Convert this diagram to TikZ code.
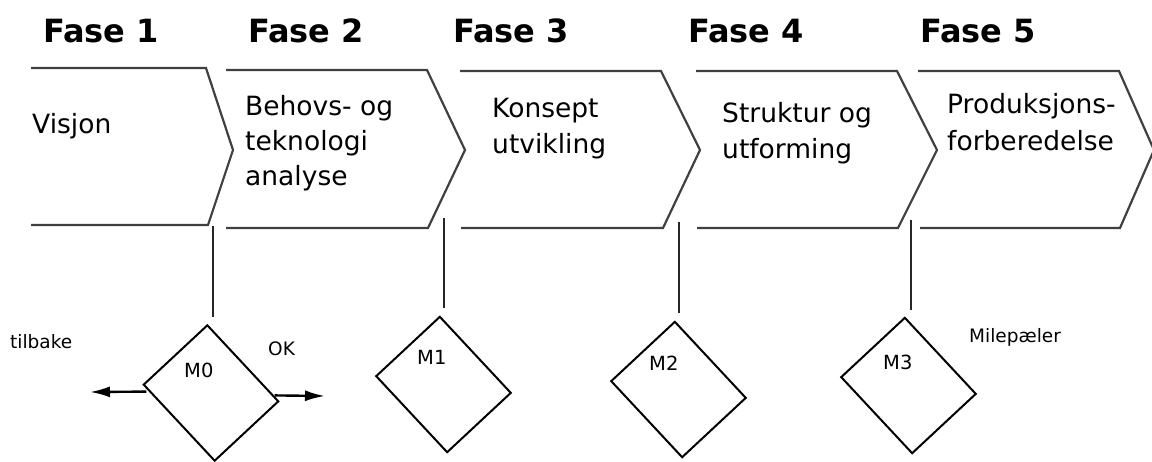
\documentclass[tikz,border=0pt]{standalone}
\usepackage{fontspec}
\setmainfont{DejaVu Sans}
\usetikzlibrary{arrows.meta}
\begin{document}
\begin{tikzpicture}[x=1pt,y=-1pt,
  chev/.style={line width=2.2pt, draw=black!75, line join=miter},
  phase/.style={font=\fontsize{32}{38}\selectfont\bfseries, anchor=base west, inner sep=0},
  ctext/.style={font=\fontsize{26.5}{32}\selectfont, anchor=base west, inner sep=0},
  small/.style={font=\fontsize{18.5}{22}\selectfont, anchor=base west, inner sep=0},
  mtext/.style={font=\fontsize{19.5}{22}\selectfont, anchor=base west, inner sep=0},
  ms/.style={draw, line width=2pt, rectangle, minimum width=104pt, minimum height=87pt, rotate=-47, inner sep=0},
  stem/.style={line width=1.4pt, draw=black!85},
  arr/.style={line width=2.4pt, -{Latex[length=20pt,width=11pt]}},
]
\useasboundingbox (0,0) rectangle (1152,461);

% phase titles
\node[phase] (f1) at (43,42) {Fase 1};
\node[phase] (f2) at (248,42) {Fase 2};
\node[phase] (f3) at (453,42) {Fase 3};
\node[phase] (f4) at (688,42) {Fase 4};
\node[phase] (f5) at (920,42) {Fase 5};

% chevrons
\draw[chev] (31,68) -- (206,68) -- (233,150) -- (208,225) -- (31,225);
\draw[chev] (226,70) -- (427,70) -- (465,150) -- (428,228) -- (226,228);
\draw[chev] (460,71) -- (661,71) -- (700,150) -- (663,228) -- (461,228);
\draw[chev] (696,71) -- (897,71) -- (937,150) -- (898,228) -- (697,228);
\draw[chev] (918,71) -- (1119,71) -- (1154,150) -- (1120,228) -- (920,228);

% chevron texts
\node[ctext] (t1) at (32,133) {Visjon};
\node[ctext] (t2a) at (245,115) {Behovs- og};
\node[ctext] (t2b) at (245,150) {teknologi};
\node[ctext] (t2c) at (245,185) {analyse};
\node[ctext] (t3a) at (492,117) {Konsept};
\node[ctext] (t3b) at (492,153) {utvikling};
\node[ctext] (t4a) at (722,122) {Struktur og};
\node[ctext] (t4b) at (722,158) {utforming};
\node[ctext] (t5a) at (947,113) {Produksjons-};
\node[ctext] (t5b) at (947,150) {forberedelse};

% milestones
\node[ms] (m0) at (211,393) {};
\node[ms] (m1) at (443.5,384.5) {};
\node[ms] (m2) at (678.5,389.5) {};
\node[ms] (m3) at (908.5,385.5) {};

\node[mtext] (l0) at (184,377) {M0};
\node[mtext] (l1) at (417,364) {M1};
\node[mtext] (l2) at (649,370) {M2};
\node[mtext] (l3) at (883,369) {M3};

% stems
\coordinate (s0) at (213,226); \coordinate (e0) at (213,317);
\coordinate (s1) at (444,218); \coordinate (e1) at (444,308);
\coordinate (s2) at (679,222); \coordinate (e2) at (679,313);
\coordinate (s3) at (911,220); \coordinate (e3) at (911,310);
\draw[stem] (s0) -- (e0);
\draw[stem] (s1) -- (e1);
\draw[stem] (s2) -- (e2);
\draw[stem] (s3) -- (e3);

% decision arrows
\coordinate (back) at (90,392);
\coordinate (ok) at (325,396);
\draw[arr] ([shift={(4,7)}]m0.south west) -- (back);
\draw[arr] ([shift={(-5,-6)}]m0.north east) -- (ok);

% labels
\node[small] (tb) at (10,348) {tilbake};
\node[small] (okl) at (268,355) {OK};
\node[small] (mil) at (969,342) {Milepæler};
\end{tikzpicture}
\end{document}
